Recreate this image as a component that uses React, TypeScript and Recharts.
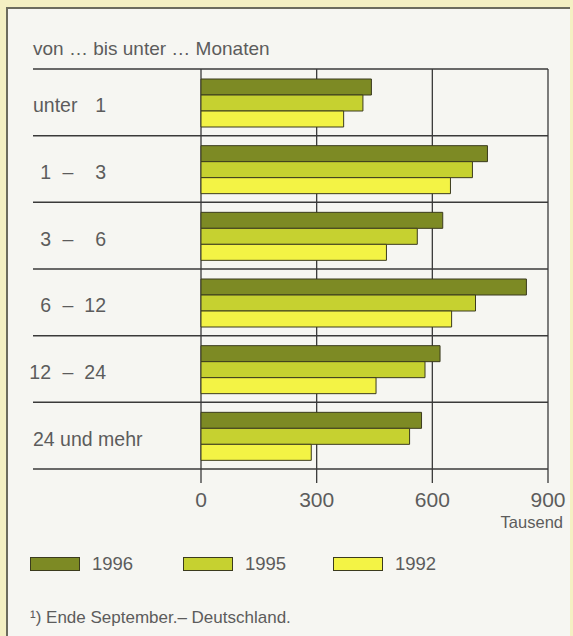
import { BarChart, Bar, XAxis, YAxis, CartesianGrid, Legend } from "recharts"

const categories = ["unter 1", "1 – 3", "3 – 6", "6 – 12", "12 – 24", "24 und mehr"]
const values1996 = [442, 743, 627, 844, 620, 572]
const values1995 = [420, 704, 561, 712, 581, 541]
const values1992 = [370, 647, 481, 650, 454, 286]
const xTicks = [0, 300, 600, 900]
const years = ["1996", "1995", "1992"]
const colors = ["#7d8a24", "#c6d130", "#f3f345"]

const FONT = "'Liberation Sans', Arial, Helvetica, sans-serif"
const TEXT = "#5c5c5c"
const LINE = "#3a3a3a"
const BAR_STROKE = "#3b3b1e"

const data = categories.map((name, i) => ({
  name,
  y1996: values1996[i],
  y1995: values1995[i],
  y1992: values1992[i],
}))

const seriesKeys = ["y1996", "y1995", "y1992"]
const legendLeft = [30, 183, 333]

function RowTick({ y, payload }: any) {
  const label: string = payload.value
  const base = y + 10
  const common = { fill: TEXT, fontSize: 19.5, fontFamily: FONT }
  if (label.includes("–")) {
    const [a, b] = label.split("–").map((s) => s.trim())
    return (
      <g>
        <text x={51} y={base} textAnchor="end" {...common}>{a}</text>
        <text x={68} y={base} textAnchor="middle" {...common}>–</text>
        <text x={106} y={base} textAnchor="end" {...common}>{b}</text>
      </g>
    )
  }
  if (label.startsWith("unter")) {
    const [a, b] = label.split(" ")
    return (
      <g>
        <text x={33} y={base} {...common}>{a}</text>
        <text x={106} y={base} textAnchor="end" {...common}>{b}</text>
      </g>
    )
  }
  return <text x={33} y={base} {...common}>{label}</text>
}

function XTick({ x, y, payload }: any) {
  return (
    <text x={x} y={y + 22} textAnchor="middle" fill={TEXT} fontSize={21} fontFamily={FONT}>
      {payload.value}
    </text>
  )
}

function LegendContent({ payload }: any) {
  const items = [...(payload || [])].sort((a: any, b: any) => years.indexOf(a.value) - years.indexOf(b.value))
  return (
    <div style={{ position: "relative", width: 573, height: 40 }}>
      {items.map((p: any, i: number) => (
        <div key={p.value}>
          <div
            style={{
              position: "absolute",
              left: legendLeft[i],
              top: 12,
              width: 50,
              height: 14,
              background: p.color,
              border: `1.5px solid ${BAR_STROKE}`,
              boxSizing: "border-box",
            }}
          />
          <span
            style={{
              position: "absolute",
              left: legendLeft[i] + 62,
              top: 10.4,
              fontSize: 18.5,
              lineHeight: "18.5px",
              fontFamily: FONT,
              color: TEXT,
              whiteSpace: "nowrap",
            }}
          >
            {p.value}
          </span>
        </div>
      ))}
    </div>
  )
}

export default function App() {
  return (
    <div style={{ position: "absolute", left: 0, top: 0, width: 573, height: 636, background: "#f4f0c3" }}>
      <div
        style={{
          position: "absolute",
          left: 6,
          top: 7,
          width: 564,
          height: 629,
          background: "#f6f6f2",
          borderLeft: "2px solid #6c6c5e",
          borderTop: "2px solid #6c6c5e",
          boxSizing: "border-box",
        }}
      />
      <div style={{ position: "absolute", left: 0, top: 0 }}>
        <BarChart
          width={573}
          height={636}
          data={data}
          layout="vertical"
          margin={{ top: 69, right: 25, bottom: 137, left: 0 }}
          barCategoryGap={10}
          barGap={0}
        >
          <CartesianGrid
            vertical={false}
            x={33}
            width={515}
            stroke={LINE}
            strokeWidth={1.5}
            horizontalCoordinatesGenerator={({ offset }: any) =>
              categories.map((_, i) => offset.top + (i * offset.height) / categories.length).concat(offset.top + offset.height)
            }
          />
          <CartesianGrid horizontal={false} stroke={LINE} strokeWidth={1.3} />
          <XAxis
            type="number"
            domain={[0, 900]}
            ticks={xTicks}
            axisLine={false}
            tickLine={{ stroke: LINE, strokeWidth: 1.3 }}
            tickSize={14}
            height={30}
            tick={<XTick />}
            interval={0}
          />
          <YAxis type="category" dataKey="name" width={201} axisLine={false} tickLine={false} tick={<RowTick />} interval={0} />
          <Legend
            layout="horizontal"
            verticalAlign="middle"
            align="center"
            wrapperStyle={{ left: 0, top: 545, width: 573, height: 40 }}
            content={<LegendContent />}
          />
          {seriesKeys.map((k, i) => (
            <Bar
              key={k}
              dataKey={k}
              name={years[i]}
              fill={colors[i]}
              stroke={BAR_STROKE}
              strokeWidth={1}
              isAnimationActive={false}
            />
          ))}
        </BarChart>
      </div>
      <svg width={573} height={636} style={{ position: "absolute", left: 0, top: 0, pointerEvents: "none" }}>
        <text x={33} y={55} fontSize={19} fontFamily={FONT} fill={TEXT}>
          von … bis unter … Monaten
        </text>
        <text x={563} y={528} textAnchor="end" fontSize={16.5} fontFamily={FONT} fill={TEXT}>
          Tausend
        </text>
        <text x={30} y={623} fontSize={17} fontFamily={FONT} fill={TEXT}>
          ¹) Ende September.– Deutschland.
        </text>
      </svg>
    </div>
  )
}
